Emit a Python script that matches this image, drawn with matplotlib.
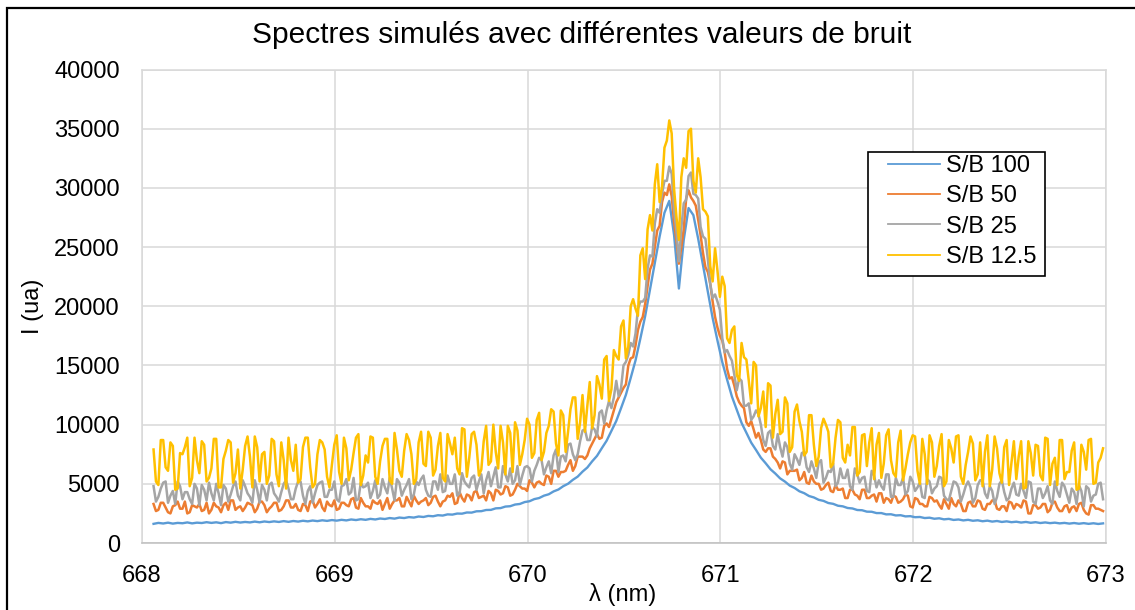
import matplotlib
matplotlib.use('Agg')
import matplotlib.pyplot as plt
import numpy as np
from matplotlib.patches import Rectangle

plt.rcParams['font.family'] = ['Liberation Sans', 'DejaVu Sans']

# wavelength grids (nm)
wl_blue = np.linspace(668.06, 672.985, 198)
wl_noisy = np.linspace(668.06, 672.985, 395)

# intensities (ua)
sb100 = [
    1620, 1700, 1650, 1720, 1640, 1700, 1670, 1740, 1660, 1720,
    1690, 1760, 1700, 1750, 1680, 1770, 1720, 1790, 1730, 1780,
    1740, 1810, 1750, 1820, 1770, 1830, 1780, 1850, 1790, 1860,
    1810, 1880, 1830, 1900, 1850, 1920, 1870, 1940, 1890, 1960,
    1910, 1990, 1940, 2010, 1960, 2040, 1990, 2070, 2030, 2110,
    2060, 2150, 2110, 2190, 2150, 2240, 2200, 2290, 2260, 2350,
    2320, 2420, 2400, 2490, 2480, 2580, 2570, 2680, 2690, 2790,
    2800, 2930, 2950, 3080, 3110, 3250, 3300, 3460, 3530, 3710,
    3800, 4000, 4120, 4360, 4520, 4800, 5010, 5340, 5610, 6030,
    6380, 6900, 7360, 8010, 8640, 9470, 10310, 11400, 12520, 13950,
    15430, 17270, 19170, 21400, 23600, 25900, 27900, 28900, 26000, 21500,
    25600, 28300, 27700, 25700, 23450, 21250, 19000, 17100, 15280, 13800,
    12370, 11250, 10150, 9320, 8480, 7860, 7210, 6740, 6230, 5870,
    5460, 5190, 4850, 4650, 4370, 4210, 3970, 3850, 3650, 3560,
    3380, 3310, 3150, 3100, 2960, 2920, 2790, 2770, 2650, 2640,
    2530, 2530, 2420, 2430, 2330, 2350, 2250, 2270, 2180, 2200,
    2110, 2140, 2050, 2090, 2000, 2040, 1950, 1990, 1910, 1960,
    1880, 1920, 1840, 1890, 1810, 1860, 1780, 1830, 1760, 1800,
    1730, 1780, 1710, 1760, 1690, 1740, 1680, 1720, 1660, 1700,
    1640, 1690, 1630, 1680, 1620, 1670, 1610, 1660]

sb50 = [
    3300, 2700, 2800, 3400, 3400, 3000, 2600, 2500, 3100, 3200, 3500, 2900, 2900, 3500, 2500, 2600, 3200, 3100, 3000, 3300,
    2700, 2800, 3400, 2500, 2800, 3400, 3100, 3000, 2600, 3200, 3400, 2800, 3600, 3600, 2800, 3000, 3100, 2700, 3000, 3400,
    3300, 3200, 2600, 2900, 3500, 3500, 3200, 2600, 2900, 3100, 3400, 3400, 2700, 2800, 3100, 3600, 3600, 3000, 3000, 3300,
    2800, 2700, 3300, 3200, 2700, 3500, 3600, 3000, 3300, 3700, 3000, 2700, 3500, 3200, 3100, 3600, 2800, 2900, 3400, 3400,
    3200, 3100, 3700, 3800, 3000, 2900, 3800, 3400, 3100, 3100, 2900, 3600, 3400, 3300, 3600, 2800, 3300, 3800, 2900, 3300,
    3600, 3600, 3800, 3100, 3100, 3900, 3500, 3100, 4000, 3600, 3300, 3500, 3600, 3800, 3200, 3400, 3900, 4000, 3500, 3100,
    3500, 3600, 4000, 3900, 4200, 3300, 3400, 4300, 3800, 3500, 4100, 4000, 3600, 4300, 4400, 3800, 3900, 4000, 3600, 4400,
    4200, 3600, 4500, 4400, 4100, 4200, 4800, 4700, 4000, 4100, 4500, 5000, 4800, 4600, 4600, 4400, 5300, 5100, 4700, 5100,
    5200, 5000, 4900, 5700, 5600, 5000, 6100, 6100, 5600, 6000, 6000, 6100, 6600, 7000, 6100, 6500, 7300, 7300, 7300, 7100,
    7400, 8000, 8400, 8800, 9200, 8800, 8900, 9900, 10100, 9800, 10500, 11200, 11900, 12300, 12700, 13100, 13400, 15000, 15600, 15700,
    16700, 18000, 18700, 19100, 20200, 21700, 23100, 23600, 25000, 26400, 26800, 28800, 29600, 29400, 30300, 29300, 27100, 25500, 23600, 25000,
    26500, 29100, 29800, 29200, 28900, 28500, 27300, 26000, 24500, 23300, 22900, 21900, 20400, 19100, 18200, 17500, 17100, 16100, 14700, 13900,
    14000, 13300, 12400, 11900, 11600, 11400, 10200, 9900, 10300, 9600, 8900, 9300, 8700, 7900, 7700, 8000, 8000, 7300, 7100, 6800,
    6300, 6900, 6800, 5800, 6100, 6100, 6100, 6200, 5300, 5500, 6000, 5100, 5000, 5700, 5200, 5000, 5000, 4500, 4600, 4900,
    5100, 4400, 4300, 4900, 4500, 4500, 4600, 3800, 3800, 4500, 4500, 4100, 4000, 3700, 4500, 4500, 3800, 3800, 4000, 4100,
    3500, 4200, 4200, 3400, 3800, 3700, 3400, 4000, 3900, 3400, 3500, 3700, 4100, 4000, 3100, 3000, 3800, 3700, 3300, 3300,
    3100, 3100, 3900, 3800, 3500, 3600, 3200, 2900, 3700, 3300, 2900, 3800, 3300, 3100, 3600, 3300, 2700, 2700, 3400, 3500,
    3100, 3100, 3600, 3500, 2900, 2800, 3300, 3300, 3600, 3600, 2900, 2800, 3100, 3100, 2700, 3500, 3400, 2900, 3300, 3200,
    3000, 3600, 3500, 2500, 2500, 3200, 3200, 2900, 3000, 3300, 3300, 2600, 2800, 3400, 3500, 3000, 2700, 2700, 3100, 3200,
    2600, 3000, 3100, 2700, 3300, 3400, 2800, 2500, 2400, 3200, 3200, 2900, 2900, 2800, 2700]

sb25 = [
    4800, 3500, 3900, 4600, 5100, 5200, 3400, 4000, 4400, 3300, 5200, 4800, 3700, 4300, 4300, 3700, 3300, 5000, 4600, 3200,
    4900, 4500, 3600, 5100, 4200, 3600, 5000, 4200, 3200, 4900, 4600, 3500, 4100, 4800, 5200, 4000, 3600, 5300, 4800, 4200,
    3900, 3400, 5300, 4500, 3400, 4900, 4500, 3600, 4900, 5100, 4200, 3900, 3500, 4300, 5000, 5300, 4600, 3700, 3700, 4600,
    5200, 5200, 4000, 3300, 4400, 4800, 3400, 4200, 4900, 5100, 5200, 3900, 3900, 4500, 4500, 5200, 3700, 3500, 4800, 4900,
    5400, 4100, 4300, 5500, 3600, 3700, 5100, 4700, 4800, 5100, 3800, 4400, 5300, 3800, 4100, 5400, 4700, 4200, 5500, 4600,
    3600, 5400, 5100, 4000, 4500, 4900, 5400, 3700, 4100, 5200, 4900, 5400, 5700, 4500, 4000, 3900, 5200, 5200, 4500, 5800,
    4300, 4400, 5700, 5000, 5000, 5800, 4000, 4200, 5900, 5200, 4900, 4700, 5500, 5700, 4500, 5200, 5800, 4200, 5300, 6000,
    4800, 5600, 6400, 4700, 4700, 6500, 5800, 5200, 6300, 5000, 5300, 6500, 4900, 5700, 6400, 6500, 6300, 5200, 6100, 6600,
    7200, 7000, 5800, 6400, 6900, 5900, 7400, 7900, 6000, 7300, 7400, 6900, 8300, 8400, 7500, 7000, 7500, 8600, 9500, 9600,
    8700, 8700, 9800, 9600, 9000, 11000, 11200, 10100, 11200, 12000, 11400, 12300, 13700, 12400, 13100, 15000, 15300, 15900, 16900, 16600,
    17700, 19800, 20400, 20400, 20700, 23200, 24300, 24200, 27000, 28200, 27900, 29500, 30600, 30600, 31800, 31200, 28100, 26300, 23800, 26600,
    28700, 29000, 31000, 31300, 29500, 29400, 29100, 26700, 25900, 25700, 24000, 21900, 20700, 21000, 20400, 19700, 17300, 16100, 16300, 15800,
    15400, 14200, 12900, 13900, 13700, 11600, 11600, 11800, 10400, 10700, 11200, 10900, 10000, 8700, 8200, 9300, 9500, 8200, 7900, 9200,
    8100, 7300, 8500, 8100, 6700, 6200, 7500, 7100, 6600, 7600, 7700, 6400, 6000, 6900, 6300, 5500, 6800, 7000, 5100, 5500,
    6100, 6000, 6700, 4800, 5100, 6300, 5500, 5500, 6200, 4800, 4500, 6300, 5800, 5100, 5500, 5600, 4400, 4300, 6100, 5700,
    4700, 5300, 4800, 4500, 5800, 5800, 3900, 3900, 5500, 4900, 4900, 5500, 4100, 4400, 5600, 5200, 4400, 4700, 5100, 3900,
    3800, 5400, 5200, 4200, 4600, 4800, 5600, 5500, 4000, 3700, 3600, 4400, 5200, 5100, 4700, 3500, 4100, 4800, 5200, 4700,
    3400, 3800, 4900, 5300, 5300, 4200, 3800, 4800, 4400, 3300, 3900, 5000, 5300, 4300, 3600, 3800, 4600, 5100, 4100, 4000,
    5000, 4400, 3800, 5200, 5100, 3500, 3300, 4600, 4600, 3800, 4200, 4800, 3600, 3300, 5200, 4400, 3900, 5100, 4800, 4100,
    3400, 4600, 4300, 3300, 4900, 4400, 3100, 4800, 4600, 3500, 4000, 4100, 5000, 5100, 3700]

sb12_5 = [
    7900, 5200, 4900, 8700, 8700, 6400, 6100, 8500, 8200, 4500, 4600, 7600, 7500, 8100, 8900, 4800, 5500, 8900, 7000, 5900,
    8600, 8300, 5200, 5500, 6300, 8800, 8800, 4700, 4700, 7100, 7800, 8700, 8500, 5100, 5900, 7900, 4600, 6200, 8200, 9000,
    7300, 4700, 9000, 8100, 5200, 7500, 7700, 5000, 5700, 8800, 8600, 5800, 4800, 8500, 7000, 4600, 8900, 7000, 6100, 8300,
    5100, 5400, 8100, 8900, 8900, 6400, 4700, 5000, 7500, 8700, 8500, 7900, 5600, 4700, 6600, 8300, 9100, 6000, 5000, 8900,
    8000, 5300, 6200, 7600, 8900, 9200, 4900, 5700, 7400, 6800, 9000, 8900, 5600, 5000, 6900, 8200, 8800, 8800, 5300, 5000,
    9300, 7900, 6100, 5600, 7800, 9200, 8700, 7500, 5000, 5400, 8500, 9400, 6700, 6500, 9400, 8900, 5700, 6200, 8200, 9300,
    5500, 5200, 9200, 8400, 7500, 8900, 6300, 5800, 9700, 9600, 5600, 7200, 9200, 9400, 8300, 5700, 6200, 8600, 9900, 6600,
    6900, 10000, 7700, 6300, 9900, 8500, 5800, 9900, 9300, 6000, 10200, 9500, 6600, 7500, 8700, 10500, 10000, 7200, 7600, 10400,
    11000, 7000, 7700, 9300, 9900, 11300, 11100, 8400, 7400, 11200, 10800, 7700, 9400, 11300, 12300, 12300, 8800, 10200, 12500, 9400,
    11600, 13600, 9700, 10800, 14100, 13400, 12200, 15500, 15800, 12000, 13000, 16300, 15800, 15500, 18300, 18800, 15600, 16600, 20000, 20600,
    19800, 19200, 24300, 24900, 22300, 26500, 27700, 26400, 30300, 32000, 28800, 30100, 33400, 34000, 35700, 34600, 29900, 27500, 25600, 30900,
    32500, 31700, 34800, 35000, 30600, 29600, 32500, 30900, 28200, 28000, 27600, 23400, 22100, 24900, 23000, 20800, 22500, 21700, 17300, 16900,
    18000, 18300, 14200, 13700, 16900, 15700, 15500, 13700, 11800, 15300, 15000, 10700, 11400, 12800, 9800, 13500, 13300, 8900, 10900, 12100,
    9200, 9400, 12300, 11800, 7700, 8100, 11100, 11700, 10300, 9400, 7400, 7700, 10800, 10800, 8300, 6500, 7300, 9700, 10500, 10000,
    9400, 6400, 6700, 8900, 10400, 10200, 7200, 6800, 8300, 7400, 9800, 9800, 5700, 6000, 9100, 9200, 6500, 8500, 9700, 5400,
    8300, 9300, 5500, 6700, 9100, 9600, 7000, 5900, 5600, 8500, 9500, 5300, 6300, 7500, 8500, 9100, 9000, 6100, 5000, 8800,
    7500, 5000, 9100, 8500, 5600, 6500, 8200, 9200, 4800, 5200, 8700, 8000, 6800, 9000, 9100, 5600, 5000, 6600, 7700, 9000,
    8400, 5300, 5800, 8500, 4800, 7700, 9100, 4800, 6200, 9000, 8000, 5900, 5100, 8100, 8700, 4900, 6800, 8600, 5400, 7300,
    8600, 4600, 4700, 8600, 7600, 5700, 8300, 8200, 5700, 5300, 8900, 8800, 4900, 6700, 7200, 4900, 8700, 8700, 5400, 6000,
    6000, 7800, 8500, 4500, 4600, 8300, 7700, 6200, 8700, 8800, 5000, 5100, 6800, 7200, 8000]

series = [(wl_blue, sb100), (wl_noisy, sb50), (wl_noisy, sb25), (wl_noisy, sb12_5)]
labels = ['S/B 100', 'S/B 50', 'S/B 25', 'S/B 12.5']
colors = ['#5B9BD5', '#ED7D31', '#A5A5A5', '#FFC000']
widths = [1.7, 1.8, 1.8, 1.8]

fig = plt.figure(figsize=(11.35, 6.10), dpi=100)
ax = fig.add_axes([0.1251, 0.1098, 0.8493, 0.7762])

for (xs, ys), lab, c, w in zip(series, labels, colors, widths):
    ax.plot(xs, ys, color=c, lw=w, label=lab)

ax.set_xlim(668, 673)
ax.set_ylim(0, 40000)
ax.set_xticks(range(668, 674))
ax.set_yticks(range(0, 40001, 5000))
ax.grid(color='#D9D9D9', lw=1.1)
ax.set_axisbelow(True)
for s in ax.spines.values():
    s.set_color('#D9D9D9')
    s.set_linewidth(1.1)
ax.spines['bottom'].set_color('#BFBFBF')
ax.tick_params(length=0, labelsize=17, pad=16)

fig.text(0.5123, 0.9426, 'Spectres simulés avec différentes valeurs de bruit',
         fontsize=21.5, ha='center', va='center')
fig.text(33 / 1135, 1 - 306 / 610, 'I (ua)', rotation=90, fontsize=17,
         ha='center', va='center')
fig.text(0.549, 0.026, 'λ (nm)', fontsize=17, ha='center', va='center')

# legend box drawn separately, entries placed inside it
ax.add_patch(Rectangle((868 / 1135, 1 - 276 / 610), 177 / 1135, 124 / 610,
                       transform=fig.transFigure, facecolor='white',
                       edgecolor='black', lw=1.2, zorder=4, clip_on=False))
leg = ax.legend(loc='upper left', bbox_to_anchor=(888 / 1135, 1 - 155 / 610),
                bbox_transform=fig.transFigure, borderaxespad=0, fontsize=17,
                frameon=False, handlelength=2.2, handletextpad=0.25,
                labelspacing=0.35, borderpad=0)
for line in leg.get_lines():
    line.set_linewidth(1.3)

# chart frame
fig.patches.append(Rectangle((7 / 1135, -0.1), 1.1, 1 - 8 / 610 + 0.1,
                             transform=fig.transFigure, fill=False,
                             edgecolor='black', lw=1.6))

fig.savefig('out.png', dpi=100)
